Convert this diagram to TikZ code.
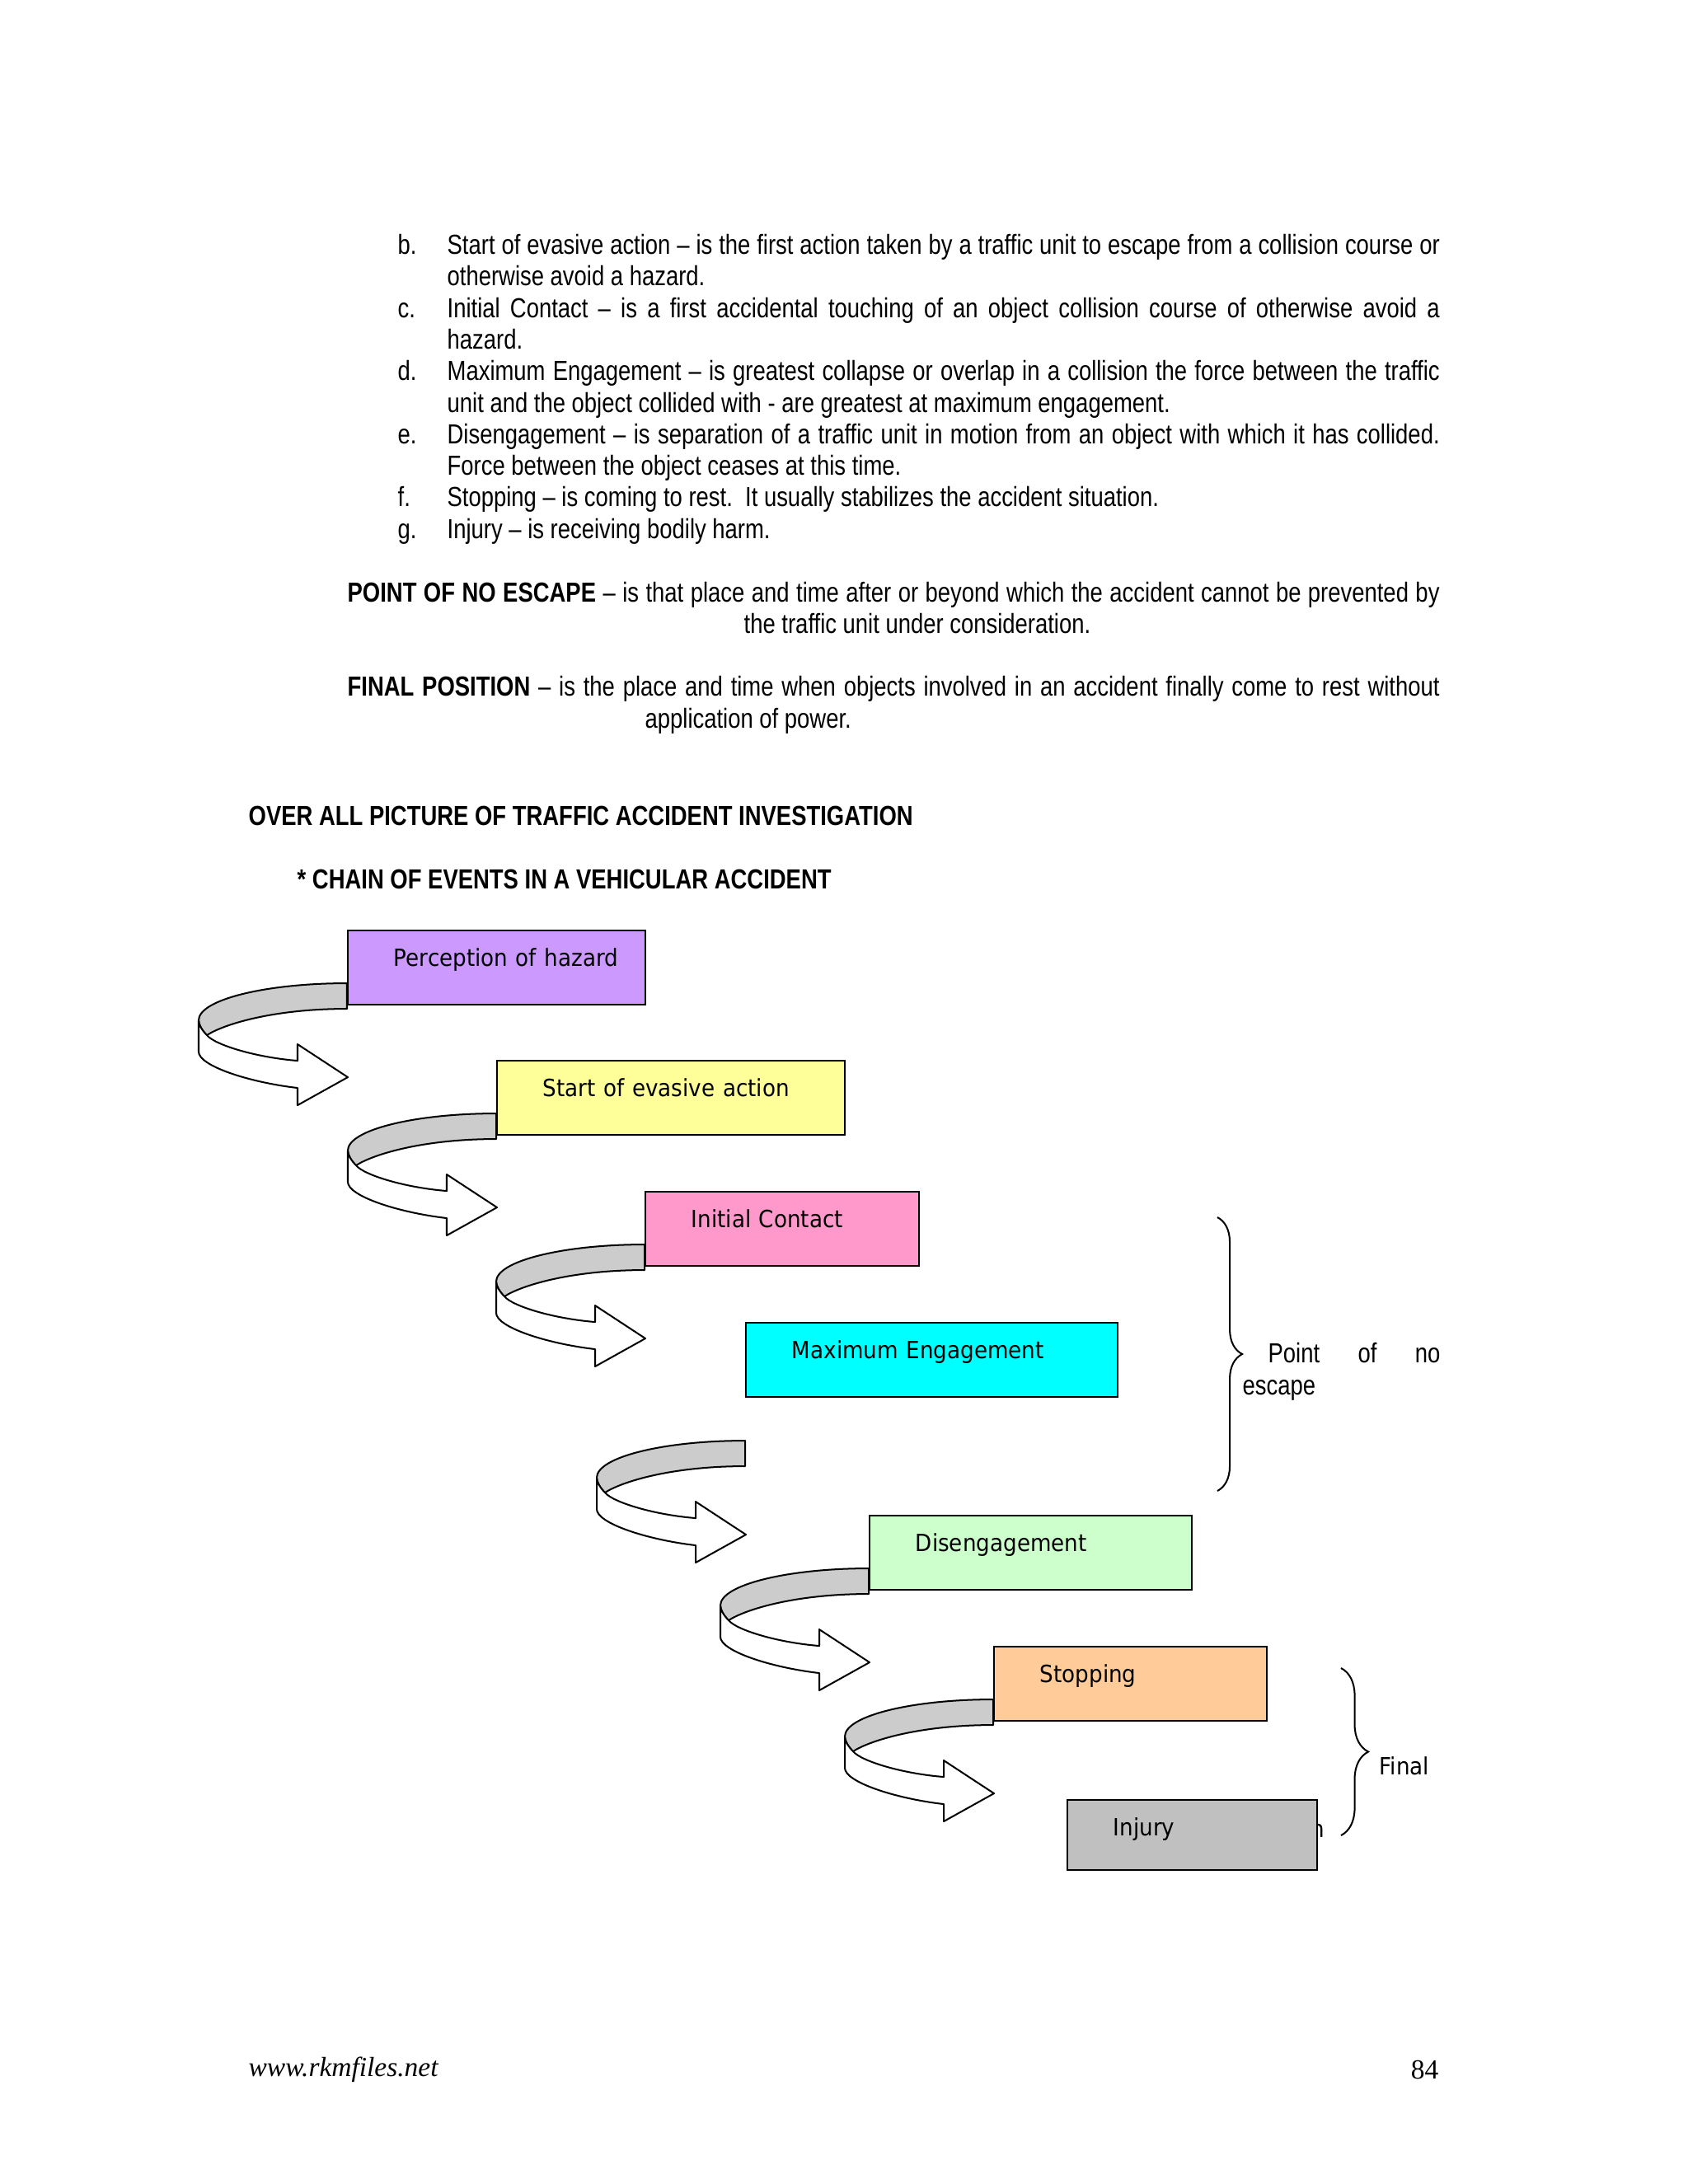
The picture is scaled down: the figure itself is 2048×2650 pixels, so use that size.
\documentclass[tikz,border=0pt]{standalone}
\usepackage{fontspec}
\setmainfont{Liberation Sans}[FakeStretch=0.82]
\newfontfamily\boxtext{DejaVu Sans}[FakeStretch=0.91]
\newfontfamily\foottext{Liberation Serif}
\usepackage{tikz}
\usetikzlibrary{calc}
\usetikzlibrary{positioning,decorations.pathreplacing}
\definecolor{hazardcol}{HTML}{CC99FF}
\definecolor{evasivecol}{HTML}{FFFF99}
\definecolor{contactcol}{HTML}{FF99CC}
\definecolor{maxengcol}{HTML}{00FFFF}
\definecolor{disengcol}{HTML}{CCFFCC}
\definecolor{stoppingcol}{HTML}{FFCC99}
\definecolor{injurycol}{HTML}{C0C0C0}
\colorlet{bandcol}{black!20}
\newcommand{\bodysize}{\fontsize{10pt}{11.45pt}\selectfont}
\newcommand{\boxsize}{\boxtext\fontsize{8.6pt}{10pt}\selectfont}
\newcommand{\itemw}{359.8pt}
\newcommand{\parw}{395.9pt}
\newcommand{\jline}[2]{\makebox[#1][s]{#2}}
% ribbon arrow hanging on the left of a box, #1 = its lower left corner
\newcommand{\twistarrow}[1]{%
\begin{scope}[shift={($(#1)+(0,-27)$)}]
\draw[bandback] (0,0) .. controls (-99,0) and (-180,20) .. (-180,45)
  .. controls (-180,50) and (-176,57) .. (-170,63)
  .. controls (-150,50) and (-90,31) .. (0,31) -- cycle;
\draw[bandfront] (-180,45) -- (-180,83)
  .. controls (-180,100) and (-120,120) .. (-60,127)
  -- (-60,148) -- (1,114) -- (-60,74) -- (-60,94)
  .. controls (-110,90) and (-160,75) .. (-170,63)
  .. controls (-176,57) and (-180,50) .. (-180,45) -- cycle;
\end{scope}}

\begin{document}
\begin{tikzpicture}[
x=0.2988pt, y=-0.2988pt,
every node/.style={font=\bodysize},
txt/.style={anchor=base west, inner sep=0pt},
evbox/.style={draw, line width=0.6pt, anchor=north west, inner sep=0pt,
  align=left, font=\boxsize, text height=13.1pt, text depth=13.8pt,
  execute at begin node={\hspace*{16.7pt}}},
bandback/.style={draw, fill=bandcol, line width=0.6pt, line join=round},
bandfront/.style={draw, fill=white, line width=0.6pt, line join=round},
bracestyle/.style={decorate, line width=0.6pt}
]
\useasboundingbox[fill=white] (0,0) rectangle (2048,2650);

% definitions b. to g.
\node[txt] (lb) at (482,308) {b.};
\node[txt] (tb1) at (542,308) {\jline{\itemw}{Start of evasive action – is the first action taken by a traffic unit to escape from a collision course or}};
\node[txt] (tb2) at (542,346) {otherwise avoid a hazard.};
\node[txt] (lc) at (482,385) {c.};
\node[txt] (tc1) at (542,385) {\jline{\itemw}{Initial Contact – is a first accidental touching of an object collision course of otherwise avoid a}};
\node[txt] (tc2) at (542,423) {hazard.};
\node[txt] (ld) at (482,461) {d.};
\node[txt] (td1) at (542,461) {\jline{\itemw}{Maximum Engagement – is greatest collapse or overlap in a collision the force between the traffic}};
\node[txt] (td2) at (542,500) {unit and the object collided with - are greatest at maximum engagement.};
\node[txt] (le) at (482,538) {e.};
\node[txt] (te1) at (542,538) {\jline{\itemw}{Disengagement – is separation of a traffic unit in motion from an object with which it has collided.}};
\node[txt] (te2) at (542,576) {Force between the object ceases at this time.};
\node[txt] (lf) at (482,614) {f.};
\node[txt] (tf) at (542,614) {Stopping – is coming to rest.\ \ It usually stabilizes the accident situation.};
\node[txt] (lg) at (482,653) {g.};
\node[txt] (tg) at (542,653) {Injury – is receiving bodily harm.};

\node[txt] (pne1) at (421,730) {\jline{\parw}{\textbf{POINT OF NO ESCAPE} – is that place and time after or beyond which the accident cannot be prevented by}};
\node[txt, anchor=base] (pne2) at (1113,768) {the traffic unit under consideration.};
\node[txt] (fp1) at (421,844) {\jline{\parw}{\textbf{FINAL POSITION} – is the place and time when objects involved in an accident finally come to rest without}};
\node[txt] (fp2) at (782,883) {application of power.};

\node[txt] (head1) at (301,1001) {\textbf{OVER ALL PICTURE OF TRAFFIC ACCIDENT INVESTIGATION}};
\node[txt] (head2) at (360,1078) {\textbf{* CHAIN OF EVENTS IN A VEHICULAR ACCIDENT}};

% the chain of boxes
\node[txt, font=\boxsize] (stray) at (1590,2229) {n};
\node[evbox, fill=hazardcol, text width=107.87pt] (hazard) at (421,1128) {Perception of hazard};
\node[evbox, fill=evasivecol, text width=126.09pt] (evasive) at (602,1286) {Start of evasive action};
\node[evbox, fill=contactcol, text width=99.2pt] (contact) at (782,1445) {Initial Contact};
\node[evbox, fill=maxengcol, text width=134.76pt] (maxeng) at (904,1604) {Maximum Engagement};
\node[evbox, fill=disengcol, text width=116.83pt] (diseng) at (1054,1838) {Disengagement};
\node[evbox, fill=stoppingcol, text width=98.9pt] (stopping) at (1205,1997) {Stopping};
\node[evbox, fill=injurycol, text width=90.54pt, text depth=12.3pt] (injury) at (1294,2183) {Injury};

\twistarrow{hazard.south west}
\twistarrow{evasive.south west}
\twistarrow{contact.south west}
\coordinate (gap) at ($(maxeng.south west)+(0,79)$);
\twistarrow{gap}
\twistarrow{diseng.south west}
\twistarrow{stopping.south west}

% braces
\coordinate (pnetop) at (1477,1477);
\coordinate (pnebot) at (1477,1809);
\draw[bracestyle, decoration={brace, amplitude=9pt}] (pnetop) -- (pnebot);
\node[txt] (pne) at (1538,1653) {\jline{62.4pt}{Point of no}};
\node[txt] (esc) at (1507,1692) {escape};

\coordinate (fintop) at (1627,2024);
\coordinate (finbot) at (1627,2227);
\draw[bracestyle, decoration={brace, amplitude=9.9pt}] (fintop) -- (finbot);
\node[txt, font=\boxsize] (final) at (1673,2153) {Final};

% footer
\node[txt, font=\foottext\itshape\bodysize] (site) at (301,2519) {www.rkmfiles.net};
\node[txt, anchor=base east, font=\foottext\bodysize] (pageno) at (1746,2522) {84};

\end{tikzpicture}
\end{document}
